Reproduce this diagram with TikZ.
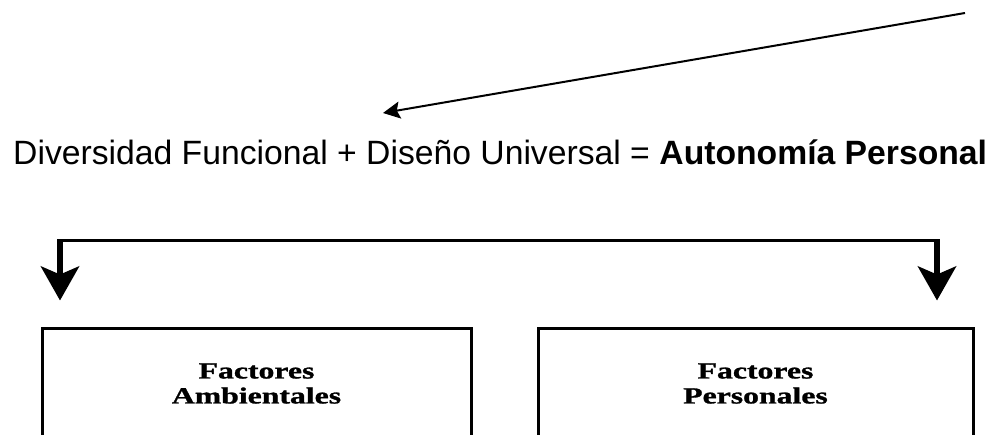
\documentclass[tikz,border=0pt]{standalone}
\usepackage{fontspec}
\setmainfont{Liberation Sans}
\newfontfamily\boxfont[FakeStretch=1.38,FakeBold=1.2]{Liberation Serif}
\usetikzlibrary{
  arrows.meta,
  positioning
}
\tikzset{
  factor/.style={
    draw,
    line width=3pt,
    inner sep=0pt,
    minimum width=429pt,
    minimum height=109pt,
    align=center,
    font=\boxfont\bfseries\fontsize{23}{25}\selectfont
  }
}

\begin{document}
\begin{tikzpicture}[
      x=1pt, y=-1pt,
      >=Stealth,
      bar/.style={line width=3pt, line cap=rect},
      drop/.style={line width=6pt, -{Stealth[length=34pt,width=38pt,inset=8pt]}},
      pointer/.style={line width=2pt, -{Stealth[length=17pt,width=17pt,inset=3pt]}}
      ]
      \useasboundingbox (0,0) rectangle (991,435);
      \clip (0,0) rectangle (991,435);

      \node[anchor=base west, inner sep=0pt,
        font=\fontsize{33.7}{40}\selectfont] (formula) at (13,165)
        {Diversidad Funcional + Diseño Universal = \textbf{Autonomía Personal}};

      \node[factor, anchor=north] (ambient) at (256.5,327.5) {Factores\\Ambientales};
      \node[factor, minimum width=435pt, right=64pt of ambient] (personal) {Factores\\Personales};

      \coordinate (from) at (965,13);
      \coordinate (to) at (383,113);
      \draw[pointer] (from) -- (to);

      % bracket down to both boxes
      \coordinate (splitL) at (60,241);
      \coordinate (splitR) at (937,241);
      \draw[bar] (splitL) -- (splitR);
      \draw[drop] ([yshift=1.5pt]splitL) -- ([yshift=27pt]ambient.north -| splitL);
      \draw[drop] ([yshift=1.5pt]splitR) -- ([yshift=27pt]personal.north -| splitR);
    \end{tikzpicture}
\end{document}
